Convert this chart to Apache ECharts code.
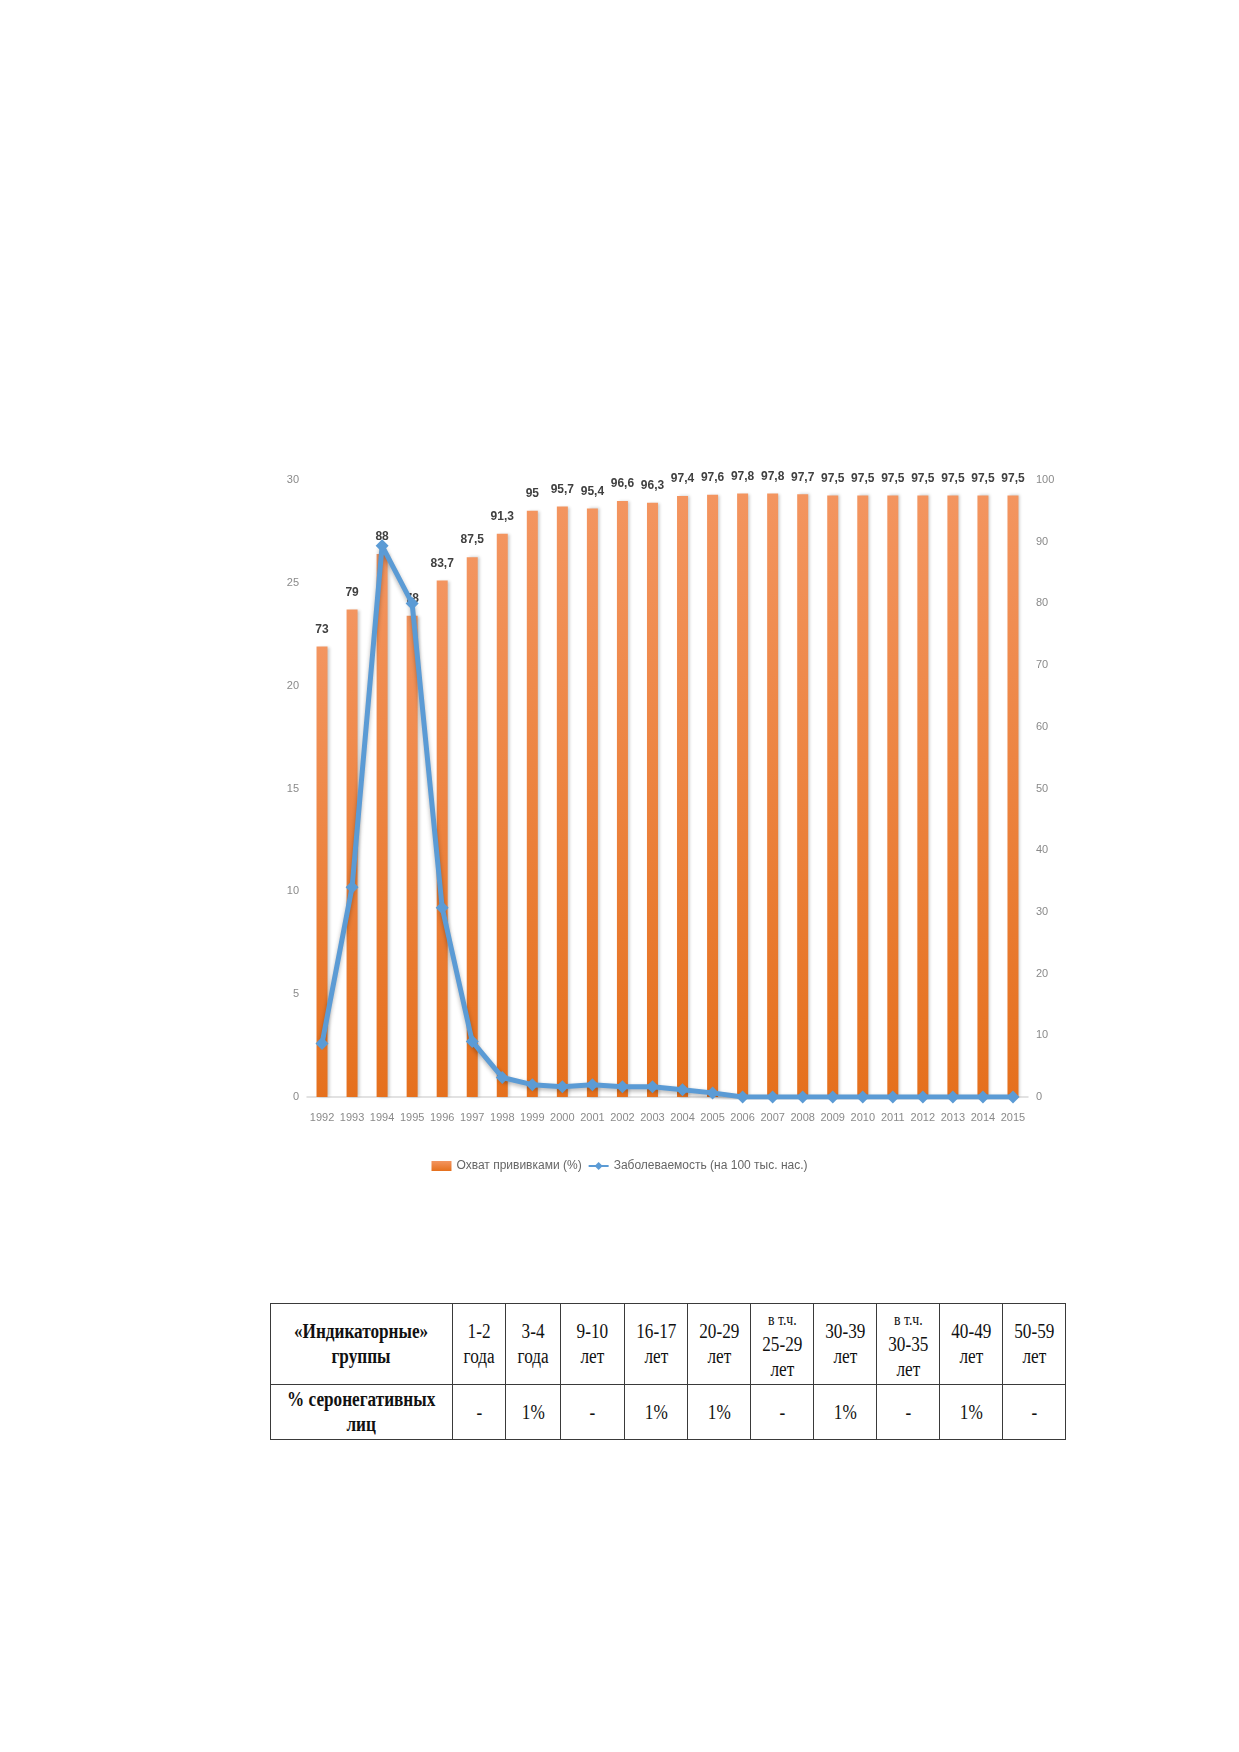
<!DOCTYPE html>
<html>
<head>
<meta charset="utf-8">
<script src="https://cdn.jsdelivr.net/npm/echarts@6/dist/echarts.min.js"></script>
<style>
  body { margin: 0; background: #fff; width: 1239px; height: 1752px; position: relative; overflow: hidden; }
  #chart { position: absolute; left: 0; top: 0; width: 1239px; height: 1250px; }
  #tbl { position: absolute; left: 270px; top: 1303px; border-collapse: collapse; font-family: 'Liberation Serif', 'Times New Roman', serif; color: #111; }
  #tbl td { border: 1.5px solid #3a3a3a; text-align: center; vertical-align: middle; padding: 0; font-size: 20px; line-height: 25px; }
  #tbl td .t { display: inline-block; transform: scaleX(0.86); white-space: nowrap; }
  #tbl td.b { font-weight: bold; }
  #tbl td .s { font-size: 16px; }
</style>
</head>
<body>
<div id="chart"></div>
<table id="tbl"></table>
<script>
var years = ['1992', '1993', '1994', '1995', '1996', '1997', '1998', '1999', '2000', '2001', '2002', '2003',
    '2004', '2005', '2006', '2007', '2008', '2009', '2010', '2011', '2012', '2013', '2014', '2015']

// охват прививками, % (правая ось)
var coverage = [73, 79, 88, 78, 83.7, 87.5, 91.3, 95, 95.7, 95.4, 96.6, 96.3,
    97.4, 97.6, 97.8, 97.8, 97.7, 97.5, 97.5, 97.5, 97.5, 97.5, 97.5, 97.5]

// заболеваемость на 100 тыс. (левая ось)
var incidence = [2.6, 10.2, 26.8, 24.0, 9.2, 2.7, 0.95, 0.6, 0.5, 0.6, 0.5, 0.5,
    0.35, 0.2, 0, 0, 0, 0, 0, 0, 0, 0, 0, 0]

var leftTicks = [0, 30, 5]
var rightTicks = [0, 100, 10]

// таблица
var groupHead = ['«Индикаторные»', 'группы']
var groupCols = [
    ['1-2', 'года'], ['3-4', 'года'], ['9-10', 'лет'], ['16-17', 'лет'], ['20-29', 'лет'],
    ['в т.ч.', '25-29', 'лет'], ['30-39', 'лет'], ['в т.ч.', '30-35', 'лет'], ['40-49', 'лет'], ['50-59', 'лет']
]
var rowHead = ['% серонегативных', 'лиц']
var seroneg = ['-', '1%', '-', '1%', '1%', '-', '1%', '-', '1%', '-']
var colWidths = [182, 53, 55, 64, 63, 63, 63, 63, 63, 63, 63]

var fmt = function (v) {
    return String(v).replace('.', ',')
}

var chart = echarts.init(document.getElementById('chart'))

var narrow = "'Liberation Sans', Arial, sans-serif"

var axisFont = {
    color: '#8a8a8a',
    fontSize: 11,
    fontFamily: narrow
}

chart.setOption({
    animation: false,
    grid: { left: 307, right: 211, top: 480, bottom: 153 },
    legend: {
        top: 1155,
        left: 'center',
        itemGap: 6,
        itemWidth: 20,
        itemHeight: 10,
        textStyle: { color: '#666', fontSize: 12, fontFamily: narrow },
        data: [
            { name: 'Охват прививками (%)', icon: 'rect' },
            { name: 'Заболеваемость (на 100 тыс. нас.)' }
        ]
    },
    xAxis: {
        type: 'category',
        data: years,
        axisTick: { show: false },
        axisLine: { lineStyle: { color: '#d9d9d9', width: 1.5 } },
        axisLabel: Object.assign({ interval: 0, margin: 15 }, axisFont)
    },
    yAxis: [
        {
            type: 'value',
            min: leftTicks[0], max: leftTicks[1], interval: leftTicks[2],
            splitLine: { show: false },
            axisLine: { show: false },
            axisTick: { show: false },
            axisLabel: Object.assign({ margin: 8 }, axisFont)
        },
        {
            type: 'value',
            min: rightTicks[0], max: rightTicks[1], interval: rightTicks[2],
            splitLine: { show: false },
            axisLine: { show: false },
            axisTick: { show: false },
            axisLabel: Object.assign({ margin: 8 }, axisFont)
        }
    ],
    series: [
        {
            name: 'Охват прививками (%)',
            type: 'bar',
            yAxisIndex: 1,
            data: coverage,
            barWidth: 11,
            itemStyle: {
                color: new echarts.graphic.LinearGradient(0, 0, 0, 1, [
                    { offset: 0, color: '#F39560' },
                    { offset: 1, color: '#E5701D' }
                ]),
                shadowColor: 'rgba(0,0,0,0.22)',
                shadowBlur: 3,
                shadowOffsetX: 2
            },
            label: {
                show: true,
                position: 'top',
                distance: 11,
                color: '#404040',
                fontWeight: 'bold',
                fontSize: 12,
                fontFamily: narrow,
                formatter: function (p) { return fmt(p.value) }
            }
        },
        {
            name: 'Заболеваемость (на 100 тыс. нас.)',
            type: 'line',
            yAxisIndex: 0,
            data: incidence,
            z: 5,
            symbol: 'diamond',
            symbolSize: 13,
            color: '#5B9BD5',
            lineStyle: {
                width: 5,
                color: '#5B9BD5',
                shadowColor: 'rgba(0,0,0,0.3)',
                shadowBlur: 4,
                shadowOffsetY: 2
            },
            itemStyle: { color: '#5B9BD5' }
        }
    ]
})

// таблица из массивов
var cell = function (lines, bold) {
    var html = lines.map(function (l) {
        return l === 'в т.ч.' ? '<span class="s">' + l + '</span>' : l
    }).join('<br>')
    return '<td' + (bold ? ' class="b"' : '') + '><span class="t">' + html + '</span></td>'
}
var head = '<tr style="height:81px">' + cell(groupHead, true)
groupCols.forEach(function (c) { head += cell(c, false) })
head += '</tr>'
var row = '<tr style="height:55px">' + cell(rowHead, true)
seroneg.forEach(function (v) { row += cell([v], false) })
row += '</tr>'
var cols = '<colgroup>' + colWidths.map(function (w) { return '<col style="width:' + w + 'px">' }).join('') + '</colgroup>'
var tbl = document.getElementById('tbl')
tbl.style.width = colWidths.reduce(function (a, b) { return a + b }, 0) + 'px'
tbl.style.tableLayout = 'fixed'
tbl.innerHTML = cols + head + row
</script>
</body>
</html>
